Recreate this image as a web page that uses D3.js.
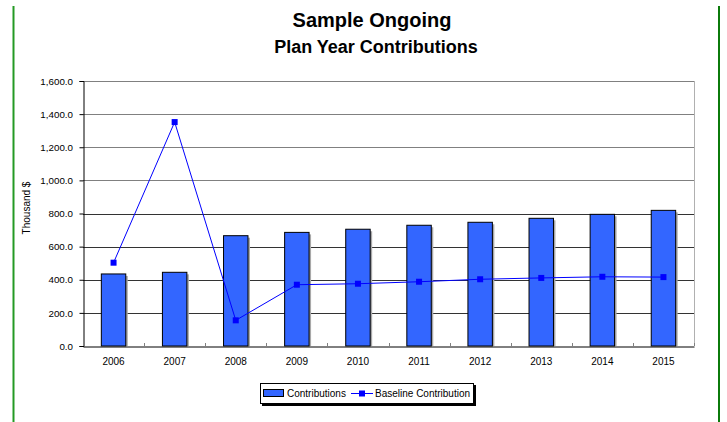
<!DOCTYPE html>
<html><head><meta charset="utf-8">
<script src="https://cdn.jsdelivr.net/npm/d3@7"></script>
<style>body{margin:0;background:#fff}svg{display:block}text{font-family:"Liberation Sans",Arial,sans-serif}</style>
</head><body>
<svg id="c" width="727" height="422"></svg>
<script>
const years = ["2006","2007","2008","2009","2010","2011","2012","2013","2014","2015"];
const contributions = [435, 445, 666, 686, 705, 729, 747, 771, 795, 819];
const baseline = [503, 1352, 155, 370, 376, 388, 403, 411, 418, 416];
const yTicks = [0, 200, 400, 600, 800, 1000, 1200, 1400, 1600];

const svg = d3.select("#c");
const L = 83, R = 694, T = 81, B = 346;

// green side rules
svg.append("line").attr("x1",13.5).attr("x2",13.5).attr("y1",6).attr("y2",422).attr("stroke","#249a24").attr("stroke-width",2);
svg.append("line").attr("x1",719).attr("x2",719).attr("y1",6).attr("y2",422).attr("stroke","#0b7a0b").attr("stroke-width",2);

svg.append("text").attr("x",372).attr("y",26.5).attr("text-anchor","middle").attr("font-size",20).attr("font-weight","bold").text("Sample Ongoing");
svg.append("text").attr("x",376).attr("y",53).attr("text-anchor","middle").attr("font-size",18).attr("font-weight","bold").text("Plan Year Contributions");

const x = d3.scaleBand().domain(years).range([L, R]).paddingInner(0).paddingOuter(0);
const y = d3.scaleLinear().domain([0, 1600]).range([B, T]);
const bw = x.bandwidth() * 0.4;

// gridlines
svg.append("g").selectAll("line").data(yTicks.filter(d=>d>0)).join("line")
  .attr("x1",L).attr("x2",R).attr("y1",d=>Math.round(y(d))+0.5).attr("y2",d=>Math.round(y(d))+0.5)
  .attr("stroke",d=>d>=1000?"#808080":"#333").attr("stroke-width",1);
// right border of plot
svg.append("line").attr("x1",R+0.5).attr("x2",R+0.5).attr("y1",T).attr("y2",B).attr("stroke","#b0b0b0");

// y axis
const ya = svg.append("g").attr("transform",`translate(${L+0.5},0)`)
  .call(d3.axisLeft(y).tickValues(yTicks).tickSize(4).tickPadding(6.5).tickFormat(d3.format(",.1f")));
ya.selectAll("text").attr("font-size",9.8).attr("fill","#000");
ya.select(".domain").attr("stroke","#000");
ya.selectAll(".tick line").attr("stroke","#000");

// bars with shadow
const bars = svg.append("g");
bars.selectAll("rect.sh").data(years).join("rect").attr("class","sh")
  .attr("x",(d,i)=>x(d)+x.bandwidth()/2-bw/2+2).attr("y",(d,i)=>y(contributions[i])+2)
  .attr("width",bw).attr("height",(d,i)=>B-y(contributions[i])-2).attr("fill","#a8a8a8");
bars.selectAll("rect.b").data(years).join("rect").attr("class","b")
  .attr("x",(d,i)=>x(d)+x.bandwidth()/2-bw/2).attr("y",(d,i)=>y(contributions[i]))
  .attr("width",bw).attr("height",(d,i)=>B-y(contributions[i])).attr("fill","#3366FF").attr("stroke","#000").attr("stroke-width",1);

// x axis
const xa = svg.append("g").attr("transform",`translate(0,${B+0.5})`)
  .call(d3.axisBottom(x).tickSize(0).tickPadding(11.5));
xa.select(".domain").attr("stroke","#000");
xa.selectAll("text").attr("font-size",10).attr("fill","#000");
svg.append("g").selectAll("line").data(years.slice(1).concat(["end"])).join("line")
  .attr("x1",(d,i)=>Math.round(d==="end"?R:x(d))+0.5).attr("x2",(d,i)=>Math.round(d==="end"?R:x(d))+0.5)
  .attr("y1",B-3).attr("y2",B).attr("stroke","#808080");

// line
const line = d3.line().x((d,i)=>x(years[i])+x.bandwidth()/2).y(d=>y(d));
svg.append("path").datum(baseline).attr("d",line).attr("fill","none").attr("stroke","#0000FF").attr("stroke-width",1);
svg.append("g").selectAll("rect").data(baseline).join("rect")
  .attr("x",(d,i)=>x(years[i])+x.bandwidth()/2-3).attr("y",d=>y(d)-3).attr("width",6).attr("height",6).attr("fill","#0000FF");

// y label
svg.append("text").attr("transform","translate(30,208) rotate(-90)").attr("text-anchor","middle").attr("font-size",10).text("Thousand $");

// legend
const lg = svg.append("g");
lg.append("rect").attr("x",262).attr("y",385).attr("width",214).attr("height",21).attr("fill","#000");
lg.append("rect").attr("x",260.5).attr("y",383.5).attr("width",213).attr("height",20).attr("fill","#fff").attr("stroke","#000");
lg.append("rect").attr("x",263.5).attr("y",389.5).attr("width",20).attr("height",7).attr("fill","#3366FF").attr("stroke","#000");
lg.append("text").attr("x",287).attr("y",397).attr("font-size",10).text("Contributions");
lg.append("line").attr("x1",351).attr("x2",373).attr("y1",393.5).attr("y2",393.5).attr("stroke","#0000FF");
lg.append("rect").attr("x",359).attr("y",390.5).attr("width",6).attr("height",6).attr("fill","#0000FF");
lg.append("text").attr("x",375).attr("y",397).attr("font-size",10).text("Baseline Contribution");
</script>
</body></html>
